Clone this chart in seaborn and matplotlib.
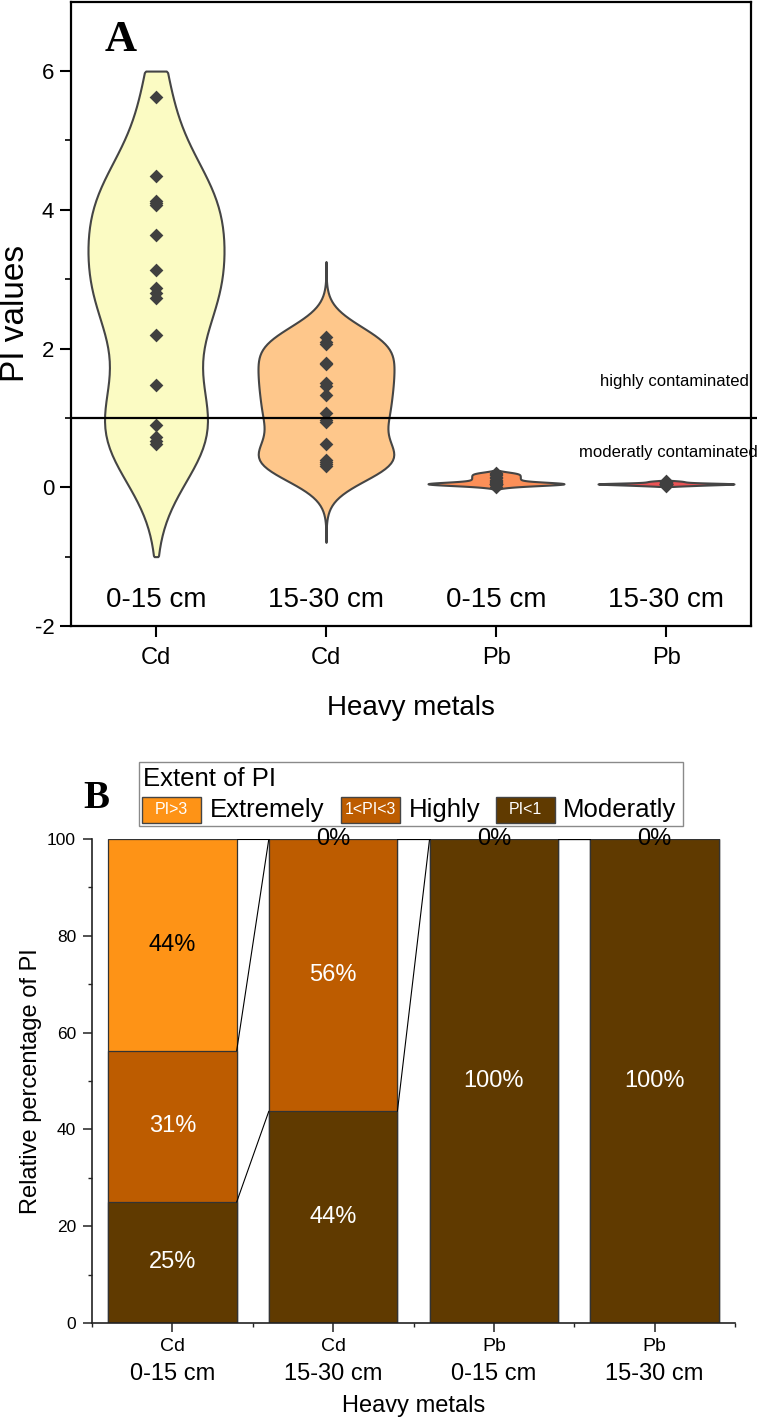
import matplotlib
matplotlib.use("Agg")
import matplotlib.pyplot as plt
import matplotlib.transforms as mtransforms
from matplotlib.patches import Rectangle
import seaborn as sns
import numpy as np
import pandas as pd

# ---------------- data ----------------
groups = ["Cd 0-15 cm", "Cd 15-30 cm", "Pb 0-15 cm", "Pb 15-30 cm"]
metals = ["Cd", "Cd", "Pb", "Pb"]
depths = ["0-15 cm", "15-30 cm", "0-15 cm", "15-30 cm"]

cd_0_15 = [5.63, 4.49, 4.13, 4.10, 4.07, 3.63, 3.13, 2.87, 2.80, 2.73, 2.20, 1.47, 0.90, 0.72, 0.66, 0.62]
cd_15_30 = [2.16, 2.10, 2.06, 1.79, 1.77, 1.50, 1.46, 1.33, 1.07, 0.97, 0.94, 0.62, 0.40, 0.36, 0.33, 0.30]
pb_0_15 = [0.21, 0.19, 0.17, 0.15, 0.13, 0.11, 0.09, 0.07, 0.06, 0.05, 0.05, 0.05, 0.05, 0.04, 0.03, 0.01]
pb_15_30 = [0.09, 0.08, 0.07, 0.06, 0.06, 0.05, 0.05, 0.05, 0.05, 0.05, 0.04, 0.04, 0.04, 0.03, 0.03, 0.02]
pi_values = [cd_0_15, cd_15_30, pb_0_15, pb_15_30]
cd_0_15_kde_range = (-1.0, 6.0)   # density of first violin is truncated to this range

threshold = 1.0

# relative percentage of PI classes (16 samples per group)
extreme_pct = [43.75, 0.0, 0.0, 0.0]     # PI > 3
highly_pct = [31.25, 56.25, 0.0, 0.0]    # 1 < PI < 3
moderate_pct = [25.0, 43.75, 100.0, 100.0]  # PI < 1

# ---------------- style ----------------
violin_colors = ["#FBFBC3", "#FEC78B", "#FC8F58", "#EA5355"]
violin_bw = [0.8, 0.75, 0.6, 0.8]
violin_cut = [3.2, 3.8, 1.5, 1.0]
edge_dark = "#454545"
c_extreme = "#FE9316"
c_highly = "#BD5C00"
c_moderate = "#603A00"

sns.set_theme(style="ticks")
plt.rcParams["font.family"] = ["Liberation Sans", "DejaVu Sans"]
plt.rcParams["axes.unicode_minus"] = False

W, H = 757, 1420
fig = plt.figure(figsize=(W / 100, H / 100), dpi=100)


def fx(x):
    return x / W


def fy(y):
    return 1 - y / H


# ================= Panel A =================
a_top, a_bot, a_left, a_right = 1.7, 626.0, 71.0, 751.0
axA = fig.add_axes([fx(a_left), fy(a_bot), fx(a_right - a_left), (a_bot - a_top) / H])

df = pd.DataFrame({
    "group": np.repeat(groups, [len(v) for v in pi_values]),
    "PI": np.concatenate(pi_values),
})

for i, g in enumerate(groups):
    n0 = len(axA.collections)
    sub = df[df["group"] == g]
    sns.violinplot(data=sub, x="group", y="PI", order=groups, color=violin_colors[i],
                   saturation=1, density_norm="width", width=0.8, inner=None,
                   bw_adjust=violin_bw[i], cut=violin_cut[i], linewidth=1.5,
                   linecolor=edge_dark, ax=axA)
    if i == 0:
        lo, hi = cd_0_15_kde_range
        for coll in axA.collections[n0:]:
            for p in coll.get_paths():
                p.vertices[:, 1] = np.clip(p.vertices[:, 1], lo, hi)

sns.stripplot(data=df, x="group", y="PI", order=groups, jitter=False, marker="D",
              color="#404040", size=7, linewidth=0, ax=axA, zorder=4)

axA.axhline(threshold, xmin=0, xmax=1.01, color="black", lw=1.6, clip_on=False, zorder=5)

axA.set_xlim(-0.5, 3.5)
axA.set_ylim(-2, 7)
axA.set_yticks([-2, 0, 2, 4, 6])
axA.set_yticks([-1, 1, 3, 5], minor=True)
axA.set_xticks(range(len(groups)))
axA.set_xticklabels(metals)
for s in axA.spines.values():
    s.set_visible(True)
    s.set_linewidth(1.6)
    s.set_color("black")
axA.tick_params(axis="both", which="major", length=8, width=1.5, direction="out",
                color="black", labelcolor="black")
axA.tick_params(axis="y", which="major", labelsize=16, pad=4)
axA.tick_params(axis="x", which="major", labelsize=17, pad=7)
axA.tick_params(axis="y", which="minor", length=4.5, width=1.2, direction="out", color="black")

axA.set_xlabel("Heavy metals", fontsize=20, color="black")
axA.xaxis.set_label_coords(0.5, -0.11)
axA.set_ylabel("PI values", fontsize=24, color="black")
axA.yaxis.set_label_coords((31 - a_left) / (a_right - a_left), 0.5)

for i, d in enumerate(depths):
    axA.text(i, -1.63, d, ha="center", va="center", fontsize=20, color="black")

axA.text(3.49, 1.53, "highly contaminated", ha="right", va="center", fontsize=12, color="black")
axA.text(3.54, 0.5, "moderatly contaminated", ha="right", va="center", fontsize=12, color="black")

fig.text(fx(121), fy(40), "A", ha="center", va="center", fontsize=32, fontweight="bold",
         family=["Liberation Serif", "DejaVu Serif"], color="black")

# ================= Panel B =================
b_top, b_bot, b_left, b_right = 839.0, 1323.0, 92.0, 735.0
axB = fig.add_axes([fx(b_left), fy(b_bot), fx(b_right - b_left), (b_bot - b_top) / H])

mod = np.array(moderate_pct)
hig = np.array(highly_pct)
ext = np.array(extreme_pct)
cum_mod = mod
cum_hig = mod + hig
cum_ext = mod + hig + ext

for vals, col in [(cum_ext, c_extreme), (cum_hig, c_highly), (cum_mod, c_moderate)]:
    sns.barplot(x=groups, y=vals, order=groups, color=col, saturation=1, width=0.8,
                edgecolor="#333333", linewidth=0.9, errorbar=None, ax=axB)

# connect lines between adjacent bars
for level in [cum_mod, cum_hig, cum_ext]:
    for i in range(len(groups) - 1):
        axB.plot([i + 0.4, i + 0.6], [level[i], level[i + 1]], color="black", lw=0.8, zorder=3)

# percentage labels (a zero share is labelled once, at the top of the bar)
for i in range(len(groups)):
    segs = [(mod[i], 0.0, "white"), (hig[i], cum_mod[i], "white"), (ext[i], cum_hig[i], "black")]
    for k, (v, base, col) in enumerate(segs):
        if v == 0:
            if k != 2:
                continue
            col = "black"
        axB.text(i, base + v / 2, f"{round(v)}%", ha="center", va="center", fontsize=17,
                 color=col, zorder=6)

axB.set_xlim(-0.5, 3.5)
axB.set_ylim(0, 100)
axB.set_yticks([0, 20, 40, 60, 80, 100])
axB.set_yticks([10, 30, 50, 70, 90], minor=True)
axB.set_xticks(range(len(groups)))
axB.set_xticks([-0.5, 0.5, 1.5, 2.5, 3.5], minor=True)
axB.set_xticklabels(metals)
axB.spines["top"].set_visible(False)
axB.spines["right"].set_visible(False)
for s in ["left", "bottom"]:
    axB.spines[s].set_linewidth(1.2)
    axB.spines[s].set_color("#222222")
axB.tick_params(axis="both", which="major", length=6.5, width=1.1, direction="out", color="#222222",
                labelcolor="black")
axB.tick_params(axis="both", which="minor", length=3, width=1.0, direction="out", color="#222222")
axB.tick_params(axis="y", which="major", labelsize=12.5, pad=5)
axB.tick_params(axis="x", which="major", labelsize=14, pad=4)

trans = mtransforms.blended_transform_factory(axB.transData, axB.transAxes)
for i, d in enumerate(depths):
    axB.text(i, (b_bot - 1374) / (b_bot - b_top), d, transform=trans, ha="center", va="center",
             fontsize=17, color="black")

axB.set_xlabel("Heavy metals", fontsize=17, color="black")
axB.xaxis.set_label_coords(0.5, (b_bot - 1395) / (b_bot - b_top))
axB.set_ylabel("Relative percentage of PI", fontsize=17, color="black")
axB.yaxis.set_label_coords((42 - b_left) / (b_right - b_left), 0.5)

fig.text(fx(96), fy(798), "B", ha="center", va="center", fontsize=28, fontweight="bold",
         family=["Liberation Serif", "DejaVu Serif"], color="black")

# ---------------- legend (custom box) ----------------
fig.patches.append(Rectangle((fx(139), fy(826)), fx(683 - 139), (826 - 762) / H,
                             transform=fig.transFigure, facecolor="white", edgecolor="#8a8a8a",
                             lw=1.0, zorder=10))
fig.text(fx(143), fy(779), "Extent of PI", ha="left", va="center", fontsize=18.5, color="black",
         zorder=11)
legend_items = [
    ("PI>3", "Extremely", c_extreme, 142, 201, 210),
    ("1<PI<3", "Highly", c_highly, 341, 400, 409),
    ("PI<1", "Moderatly", c_moderate, 496, 555, 563),
]
for key, lab, col, x0, x1, xt in legend_items:
    fig.patches.append(Rectangle((fx(x0), fy(823)), fx(x1 - x0), (823 - 797) / H,
                                 transform=fig.transFigure, facecolor=col, edgecolor="#444444",
                                 lw=1.0, zorder=11))
    fig.text(fx((x0 + x1) / 2), fy(810), key, ha="center", va="center", fontsize=11.5,
             color="white", zorder=12)
    fig.text(fx(xt), fy(810), lab, ha="left", va="center", fontsize=18.5, color="black", zorder=12)

fig.savefig("out.png", dpi=100)
